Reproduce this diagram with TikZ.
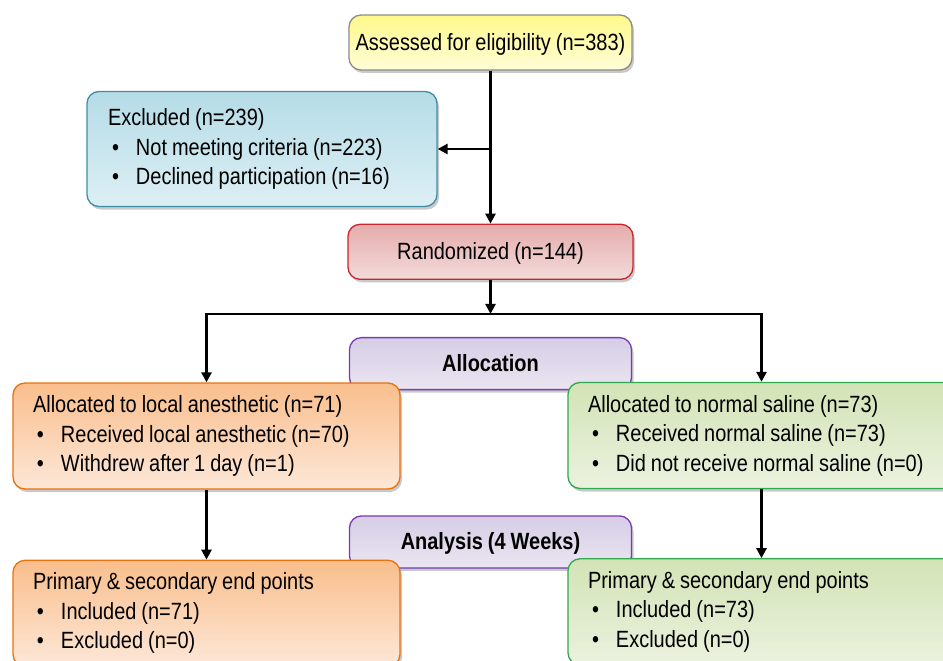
\documentclass[tikz,border=0pt]{standalone}
\usepackage{fontspec}
\setmainfont{Liberation Sans}[FakeStretch=0.85, WordSpace=0.9]
\usepackage{tikz}
\usetikzlibrary{
    positioning,  % For placing nodes relative to each other
    arrows.meta,  % For the triangle arrow tips
    shadows       % For the soft box shadows
}
\definecolor{yellowTop}{HTML}{FFF98A}
\definecolor{yellowBot}{HTML}{FFFDD8}
\definecolor{blueTop}{HTML}{B5DCE7}
\definecolor{blueBot}{HTML}{DDEFF4}
\definecolor{blueLine}{HTML}{3E8FA6}
\definecolor{redTop}{HTML}{E5ACAC}
\definecolor{redBot}{HTML}{F3DBDA}
\definecolor{redLine}{HTML}{C8262B}
\definecolor{purpleTop}{HTML}{D6CDE6}
\definecolor{purpleBot}{HTML}{EAE5F1}
\definecolor{purpleLine}{HTML}{7A3AB0}
\definecolor{orangeTop}{HTML}{F9BE8C}
\definecolor{orangeBot}{HTML}{FDE8D8}
\definecolor{orangeLine}{HTML}{E8720E}
\definecolor{greenTop}{HTML}{D3E3B6}
\definecolor{greenBot}{HTML}{EBF2DF}
\definecolor{greenLine}{HTML}{2FA84F}
% bullet with hanging indent
\newcommand{\bpt}{\makebox[28pt][l]{\hspace{4pt}\textbullet}}
\tikzset{
    % Common look of every box
    base_box/.style={
        rectangle, rounded corners=12pt, line width=1.3pt,
        inner ysep=4pt, font=\fontsize{23.5}{29.5}\selectfont,
        drop shadow={shadow xshift=2pt, shadow yshift=-3pt, opacity=0.3, fill=black!70}
    },
    % Single-line boxes on the middle column
    yellow_box/.style={base_box, draw=black!45, top color=yellowTop, bottom color=yellowBot,
        minimum width=283pt, minimum height=55pt, align=center, text depth=2pt},
    red_box/.style={base_box, draw=redLine, top color=redTop, bottom color=redBot,
        minimum width=285pt, minimum height=55pt, align=center, text depth=2pt},
    purple_box/.style={base_box, draw=purpleLine, top color=purpleTop, bottom color=purpleBot,
        minimum width=282pt, minimum height=52pt, align=center, text depth=2pt,
        font=\fontsize{23.5}{29.5}\selectfont\bfseries},
    % Multi-line boxes with bullet lists
    blue_box/.style={base_box, draw=blueLine, top color=blueTop, bottom color=blueBot,
        inner xsep=21pt, text width=308pt, minimum height=115pt, align=flush left},
    orange_box/.style={base_box, draw=orangeLine, top color=orangeTop, bottom color=orangeBot,
        inner xsep=20pt, text width=347pt, minimum height=106pt, align=flush left},
    green_box/.style={base_box, draw=greenLine, top color=greenTop, bottom color=greenBot,
        inner xsep=20pt, text width=347pt, minimum height=106pt, align=flush left},
    % Connectors
    flow_line/.style={line width=2.6pt, draw=black},
    flow_arrow/.style={flow_line, -{Triangle[length=10pt,width=10pt]}}
}
\begin{document}
\begin{tikzpicture}[x=1pt, y=-1pt]

\useasboundingbox (0,0) rectangle (943,661);
\clip (0,0) rectangle (943,661);

% --- ENROLMENT ---

\node[yellow_box] (assessed) at (490.5,42.5) {Assessed for eligibility (n=383)};

\node[blue_box] (excluded) at (262,149) {
    Excluded (n=239)\\
    \bpt Not meeting criteria (n=223)\\
    \bpt Declined participation (n=16)
};

\node[red_box, below=153pt of assessed] (randomized) {Randomized (n=144)};

% --- ALLOCATION ---

\node[purple_box, below=57pt of randomized] (allocation) {Allocation};

\node[orange_box] (local_alloc) at (206.5,436) {
    Allocated to local anesthetic (n=71)\\
    \bpt Received local anesthetic (n=70)\\
    \bpt Withdrew after 1 day (n=1)
};

\node[green_box] (saline_alloc) at (761.5,435.5) {
    Allocated to normal saline (n=73)\\
    \bpt Received normal saline (n=73)\\
    \bpt Did not receive normal saline (n=0)
};

% --- ANALYSIS ---

\node[purple_box, below=125pt of allocation] (analysis) {Analysis (4 Weeks)};

\node[orange_box, below=70pt of local_alloc] (local_end) {
    Primary \& secondary end points\\
    \bpt Included (n=71)\\
    \bpt Excluded (n=0)
};

\node[green_box, below=69pt of saline_alloc] (saline_end) {
    Primary \& secondary end points\\
    \bpt Included (n=73)\\
    \bpt Excluded (n=0)
};

% --- EDGE ROUTING ---

\coordinate (branch) at (assessed.south |- excluded.east);
\coordinate[below=34pt of randomized] (split);

\draw[flow_arrow] (assessed) -- (randomized);
\draw[flow_arrow] (branch) -- (excluded);
\draw[flow_arrow] (randomized) -- (split);
\draw[flow_arrow] (split) -| (local_alloc);
\draw[flow_arrow] (split) -| (saline_alloc);
\draw[flow_arrow] (local_alloc) -- (local_end);
\draw[flow_arrow] (saline_alloc) -- (saline_end);

\end{tikzpicture}
\end{document}
